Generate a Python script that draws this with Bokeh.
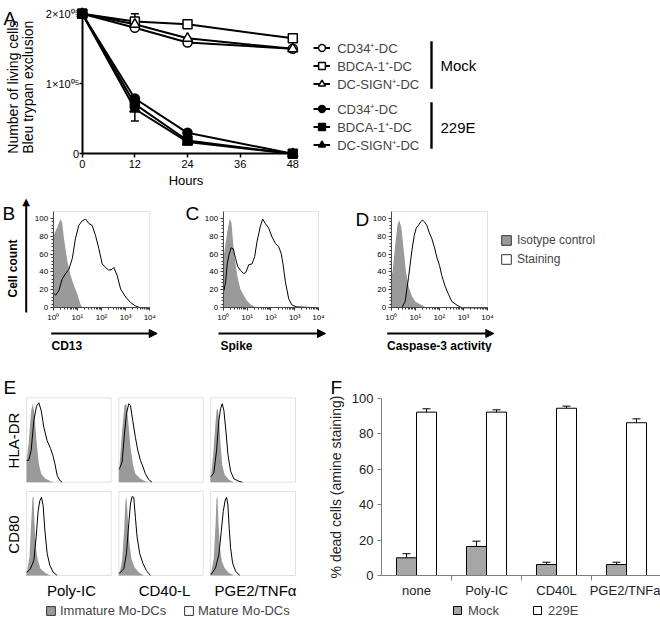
import math
import numpy as np
from bokeh.plotting import figure
from bokeh.layouts import row, column
from bokeh.models import (Legend, LegendItem, Label, Arrow, NormalHead, Whisker,
                          TeeHead, ColumnDataSource, FixedTicker, Range1d, BoxAnnotation)
from bokeh.embed import file_html
from bokeh.resources import INLINE

FONT = "Liberation Sans"

# ---------------- Panel A data ----------------
hours = [0, 12, 24, 48]
a_names = ["CD34⁺-DC", "BDCA-1⁺-DC", "DC-SIGN⁺-DC"]
mock_cd34 = [200000, 180000, 159000, 150000]
mock_bdca1 = [200000, 189000, 185000, 165000]
mock_dcsign = [200000, 185000, 165000, 150000]
hcov_cd34 = [200000, 79000, 30000, 0]
hcov_bdca1 = [200000, 71000, 19000, 0]
hcov_dcsign = [200000, 64000, 17000, 0]
err_mock_bdca1 = [0, 11000, 0, 0]
err_hcov_dcsign = [0, 17000, 0, 0]
a_xticks = [0, 12, 24, 36, 48]
a_yticks = [0, 100000, 200000]
a_ytick_labels = ["0", "1×10⁰⁵", "2×10⁰⁵"]

# ---------------- Panels B-D data (log10 fluorescence, % of max) ----------------
decades = [1, 10, 100, 1000, 10000]
decade_labels = ["10⁰", "10¹", "10²", "10³", "10⁴"]
count_ticks = [0, 20, 40, 60, 80, 100]

b_iso_log = [0.0, 0.17, 0.30, 0.37, 0.44, 0.58, 0.72, 0.86, 0.99, 1.13, 1.22]
b_iso_cnt = [80, 90, 99, 95, 79, 53, 36, 25, 16, 4, 0]
b_st_log = [0.03, 0.10, 0.23, 0.37, 0.51, 0.65, 0.79, 0.92, 1.06, 1.20, 1.34, 1.48, 1.61, 1.75,
            1.89, 2.03, 2.17, 2.30, 2.44, 2.51, 2.65, 2.79, 3.0, 3.2, 3.41, 3.61, 4.0]
b_st_cnt = [16, 14, 19, 32, 38, 43, 55, 77, 92, 97, 99, 94, 92, 81,
            66, 49, 45, 42, 43, 45, 36, 21, 12, 6, 2, 0, 0]

c_iso_log = [0.03, 0.17, 0.28, 0.35, 0.45, 0.59, 0.72, 0.86, 1.00, 1.14, 1.35, 1.42]
c_iso_cnt = [59, 85, 100, 94, 62, 36, 21, 14, 8, 4, 1, 0]
c_st_log = [0.03, 0.10, 0.17, 0.24, 0.33, 0.42, 0.52, 0.61, 0.72, 0.86, 0.96, 1.07, 1.21, 1.32,
            1.42, 1.56, 1.66, 1.77, 1.91, 2.05, 2.19, 2.33, 2.43, 2.51, 2.61, 2.75, 2.89, 3.09, 4.0]
c_st_cnt = [19, 29, 49, 59, 67, 66, 55, 46, 42, 38, 40, 48, 49, 57,
            74, 91, 99, 94, 89, 79, 72, 68, 61, 49, 29, 10, 3, 1, 0]

d_iso_log = [0.0, 0.06, 0.17, 0.26, 0.33, 0.42, 0.51, 0.61, 0.72, 0.86, 1.00, 1.20, 1.41, 1.55]
d_iso_cnt = [35, 41, 71, 92, 98, 90, 67, 41, 24, 13, 7, 4, 1, 0]
d_st_log = [0.44, 0.58, 0.72, 0.86, 0.96, 1.04, 1.13, 1.23, 1.30, 1.38, 1.48, 1.58, 1.69, 1.80,
            1.90, 2.01, 2.10, 2.24, 2.38, 2.52, 2.73, 2.93, 4.0]
d_st_cnt = [0, 7, 34, 64, 81, 89, 92, 96, 98, 96, 92, 84, 77, 67,
            56, 47, 36, 24, 15, 7, 3, 0, 0]

# ---------------- Panel E data (channel, % of max) ----------------
e_cols = ["Poly-IC", "CD40-L", "PGE2/TNFα"]
e_rows = ["HLA-DR", "CD80"]
hla_poly_iso_ch = [0, 7, 14, 19, 24, 30, 37, 44, 57, 72, 82]
hla_poly_iso = [24, 49, 85, 93, 81, 49, 22, 10, 4, 1, 0]
hla_poly_st_ch = [0, 7, 14, 22, 30, 37, 44, 52, 62, 72, 79, 85, 92, 100, 107]
hla_poly_st = [26, 26, 38, 73, 90, 94, 85, 65, 49, 40, 32, 22, 8, 2, 0]
hla_cd40_iso_ch = [0, 2, 10, 17, 23, 28, 35, 43, 50, 65, 80, 90]
hla_cd40_iso = [10, 18, 61, 91, 93, 73, 42, 20, 10, 4, 1, 0]
hla_cd40_st_ch = [0, 2, 10, 17, 23, 30, 35, 42, 50, 57, 65, 73, 80, 90, 100]
hla_cd40_st = [15, 16, 24, 57, 81, 93, 91, 73, 53, 38, 26, 18, 10, 3, 0]
hla_pge_iso_ch = [0, 2, 8, 14, 18, 22, 26, 30, 35, 42, 55, 70]
hla_pge_iso = [5, 9, 33, 65, 85, 87, 73, 45, 21, 9, 3, 0]
hla_pge_st_ch = [0, 2, 10, 18, 25, 30, 35, 40, 46, 52, 60, 70, 85, 95]
hla_pge_st = [7, 7, 11, 37, 73, 87, 93, 85, 61, 33, 13, 4, 1, 0]
cd80_poly_iso_ch = [0, 2, 9, 14, 18, 21, 24, 28, 34, 42, 57, 72]
cd80_poly_iso = [3, 6, 22, 62, 93, 94, 62, 34, 18, 8, 3, 0]
cd80_poly_st_ch = [0, 2, 12, 22, 29, 35, 40, 45, 50, 55, 62, 70, 80, 92]
cd80_poly_st = [4, 4, 8, 18, 46, 77, 89, 93, 83, 54, 26, 12, 4, 0]
cd80_cd40_iso_ch = [0, 3, 10, 16, 20, 23, 27, 32, 38, 47, 60, 75]
cd80_cd40_iso = [2, 4, 18, 54, 89, 94, 69, 38, 20, 10, 4, 0]
cd80_cd40_st_ch = [0, 3, 15, 23, 30, 35, 40, 45, 50, 55, 63, 73, 83, 95]
cd80_cd40_st = [3, 3, 8, 26, 62, 85, 94, 93, 69, 46, 26, 14, 6, 0]
cd80_pge_iso_ch = [0, 3, 10, 15, 18, 21, 24, 28, 34, 42, 55, 70]
cd80_pge_iso = [2, 5, 21, 60, 92, 93, 60, 33, 17, 9, 3, 0]
cd80_pge_st_ch = [0, 3, 15, 25, 32, 38, 44, 48, 52, 56, 60, 66, 75, 88]
cd80_pge_st = [2, 2, 9, 25, 52, 76, 90, 93, 84, 56, 33, 15, 5, 0]

# ---------------- Panel F data ----------------
treatments = ["none", "Poly-IC", "CD40L", "PGE2/TNFa"]
dead_mock = [10, 16.4, 6.2, 6.2]
dead_mock_err = [2.3, 3.0, 1.3, 1.3]
dead_229e = [92.3, 92.3, 94.5, 86.3]
dead_229e_err = [1.9, 1.3, 1.2, 2.2]
f_yticks = [0, 20, 40, 60, 80, 100]

GRAY_FILL = "#9a9a9a"
BOX = "#a0a0a0"


def span(P0, v0, P1, v1, start, size):
    """value range shown by a canvas run [start, start+size] when page P0->v0, P1->v1"""
    ppu = (P1 - P0) / (v1 - v0)
    a = v0 + (start - P0) / ppu
    b = v0 + (start + size - P0) / ppu
    return a, b


class Panel:
    def __init__(self, left, top, width, height, xmap, ymap, log_x=False, **kw):
        self.left, self.top, self.w, self.h = left, top, width, height
        xa, xb = span(*xmap, left, width)
        yt, yb = span(*ymap, top, height)
        xr = Range1d(10 ** xa, 10 ** xb) if log_x else Range1d(xa, xb)
        p = figure(width=width, height=height, x_range=xr, y_range=Range1d(yb, yt),
                   output_backend="svg", toolbar_location=None, min_border=0,
                   x_axis_type="log" if log_x else "linear", **kw)
        p.xgrid.visible = False
        p.ygrid.visible = False
        p.background_fill_color = "white"
        p.border_fill_color = "white"
        p.outline_line_color = None
        self.p = p

    def label(self, X, Y, text, size, align="left", baseline="middle", angle=0.0,
              style="normal", font=FONT):
        self.p.add_layout(Label(x=X - self.left, y=self.top + self.h - Y, x_units="screen",
                                y_units="screen", text=text, text_font=font,
                                text_font_size=f"{size}px", text_align=align,
                                text_baseline=baseline, angle=angle, text_font_style=style,
                                text_color="black"))

    def arrow(self, X0, Y0, X1, Y1, head=True, width=2):
        b = self.top + self.h
        self.p.add_layout(Arrow(x_start=X0 - self.left, y_start=b - Y0, x_end=X1 - self.left,
                                y_end=b - Y1, start_units="screen", end_units="screen",
                                line_width=width, line_color="black", start=None,
                                end=NormalHead(size=8, fill_color="black", line_color="black",
                                               line_width=1) if head else None))

    def bar(self, X0, X1, Ytop, Ybot):
        b = self.top + self.h
        self.p.add_layout(BoxAnnotation(left=X0 - self.left, right=X1 - self.left,
                                        top=b - Ytop, bottom=b - Ybot,
                                        left_units="screen", right_units="screen",
                                        top_units="screen", bottom_units="screen",
                                        fill_color="black", fill_alpha=1, line_alpha=0))

    def legend(self, items, X, Ybottom, gw, gh, lh, spacing, standoff, size):
        self.p.add_layout(Legend(items=[LegendItem(label=t, renderers=r) for t, r in items],
                                 location=(X - self.left, self.top + self.h - Ybottom),
                                 orientation="vertical", glyph_width=gw, glyph_height=gh,
                                 label_height=lh, spacing=spacing, label_standoff=standoff,
                                 padding=0, margin=0, border_line_alpha=0,
                                 background_fill_alpha=0, label_text_font=FONT,
                                 label_text_font_size=f"{size}px"))

    def swatch(self, fill):
        # legend-only proxy (no visible mark)
        return self.p.quad(left=[np.nan], right=[np.nan], top=[np.nan], bottom=[np.nan],
                           fill_color=fill, line_color="#333333", line_width=1)


def style_axis(ax, size, color="black", line="black"):
    ax.axis_line_color = line
    ax.major_tick_line_color = line
    ax.minor_tick_line_color = line
    ax.major_tick_in = 0
    ax.minor_tick_in = 0
    ax.major_label_text_font = FONT
    ax.major_label_text_font_size = f"{size}px"
    ax.major_label_text_color = color


# ================= Panel A =================
A = Panel(0, 0, 660, 190, (81.7, 0, 292.3, 48), (153.3, 0, 13.3, 200000))
pA = A.p
pA.xaxis.fixed_location = 0
pA.yaxis.fixed_location = 0
pA.xaxis.bounds = (0, 48.7)
pA.yaxis.bounds = (0, 200000)
pA.xaxis.ticker = FixedTicker(ticks=a_xticks)
pA.yaxis.ticker = FixedTicker(ticks=a_yticks)
pA.yaxis.major_label_overrides = dict(zip(a_yticks, a_ytick_labels))
for ax in (pA.xaxis, pA.yaxis):
    style_axis(ax, 11)
    ax.axis_line_width = 2
    ax.major_tick_line_width = 1.5
    ax.minor_tick_line_color = None
pA.xaxis.major_tick_out = 4
pA.xaxis.major_label_standoff = 2
pA.yaxis.major_tick_out = 3
pA.yaxis.major_label_standoff = 0

a_series = [(mock_cd34, "circle", "white", 9), (mock_bdca1, "square", "white", 9),
            (mock_dcsign, "triangle", "white", 10), (hcov_cd34, "circle", "black", 9),
            (hcov_bdca1, "square", "black", 9), (hcov_dcsign, "triangle", "black", 10)]
lines = [pA.line(hours, v, line_color="black", line_width=2) for v, *_ in a_series]
marks = [pA.scatter(hours, v, marker=m, size=s, fill_color=f, line_color="black", line_width=1.5)
         for v, m, f, s in a_series]
for vals, errs in [(mock_bdca1, err_mock_bdca1), (hcov_dcsign, err_hcov_dcsign)]:
    keep = [i for i, e in enumerate(errs) if e > 0]
    src = ColumnDataSource(dict(base=[hours[i] for i in keep],
                                lower=[vals[i] - errs[i] for i in keep],
                                upper=[vals[i] + errs[i] for i in keep]))
    pA.add_layout(Whisker(source=src, base="base", lower="lower", upper="upper",
                          line_width=1.5, line_color="black",
                          upper_head=TeeHead(size=8, line_width=1.5),
                          lower_head=TeeHead(size=8, line_width=1.5)))

A.legend([(a_names[i], [lines[i], marks[i]]) for i in range(3)], 313.2, 92.8, 17, 17, 17, 0, 7, 13)
A.legend([(a_names[i], [lines[i + 3], marks[i + 3]]) for i in range(3)], 313.2, 153.8,
         17, 17, 17, 0, 7, 13)
A.bar(429.8, 432.2, 40.7, 88.3)
A.bar(429.8, 432.2, 101.7, 148.3)
A.label(440, 65, "Mock", 15)
A.label(440, 126.7, "229E", 15)
A.label(3, 18, "A", 19, baseline="alphabetic")
A.label(12.5, 86.7, "Number of living cells", 14, align="center", angle=math.pi / 2)
A.label(27.5, 86.7, "Bleu trypan exclusion", 14, align="center", angle=math.pi / 2)
A.label(185.5, 180, "Hours", 13, align="center")


# ================= Panels B-D =================
def flow_panel(left, width, X0, X4, iso_log, iso_cnt, st_log, st_cnt):
    P = Panel(left, 190, width, 162, (X0, 0, X4, 4), (307.3, 0, 217.7, 100), log_x=True)
    p = P.p
    p.varea(x=[10 ** e for e in iso_log], y1=0, y2=iso_cnt, fill_color=GRAY_FILL)
    p.line(x=[10 ** e for e in st_log], y=st_cnt, line_color="black", line_width=1)
    p.add_layout(BoxAnnotation(left=decades[0], right=decades[-1], bottom=0, top=107.5,
                               fill_alpha=0, line_color=BOX, line_width=1))
    p.xaxis.fixed_location = 0
    p.yaxis.fixed_location = decades[0]
    p.xaxis.bounds = (decades[0], decades[-1])
    p.yaxis.bounds = (0, 107.5)
    p.xaxis.ticker = FixedTicker(ticks=decades,
                                 minor_ticks=[m * d for d in decades[:-1] for m in range(2, 10)])
    p.xaxis.major_label_overrides = dict(zip(decades, decade_labels))
    p.yaxis.ticker = FixedTicker(ticks=count_ticks,
                                 minor_ticks=[v for v in range(0, 101, 4) if v % 20])
    for ax in (p.xaxis, p.yaxis):
        style_axis(ax, 8, line="#333333")
        ax.major_tick_out = 3
        ax.minor_tick_out = 2
        ax.major_label_standoff = 2
    return P


B = flow_panel(0, 175, 52.7, 149.3, b_iso_log, b_iso_cnt, b_st_log, b_st_cnt)
B.bar(24.7, 26.7, 203, 312)
B.label(25.7, 201, "▲", 10, align="center", font="DejaVu Sans")
B.label(2, 213, "B", 19, baseline="alphabetic")
B.label(12.5, 268, "Cell count", 12, align="center", angle=math.pi / 2, style="bold")
B.arrow(50.7, 333, 156.7, 333)
B.label(51, 345, "CD13", 12, style="bold")

C = flow_panel(175, 170, 222.7, 318, c_iso_log, c_iso_cnt, c_st_log, c_st_cnt)
C.label(185, 213, "C", 19, baseline="alphabetic")
C.arrow(218, 333, 325, 333)
C.label(220, 345, "Spike", 12, style="bold")

D = flow_panel(345, 315, 390.7, 487, d_iso_log, d_iso_cnt, d_st_log, d_st_cnt)
D.label(355, 219, "D", 19, baseline="alphabetic")
D.arrow(386.7, 333, 493.3, 333)
D.label(386.5, 345, "Caspase-3 activity", 12, style="bold")
D.legend([("Isotype control", [D.swatch(GRAY_FILL)]), ("Staining", [D.swatch("white")])],
         500, 266, 12, 12, 14, 5, 5, 12)


# ================= Panel E =================
def e_panel(left, width, X0, X1, top, height, Ybot, Ytop, iso_ch, iso_cnt, st_ch, st_cnt):
    P = Panel(left, top, width, height, (X0, 0, X1, 254), (Ybot, 0, Ytop, 100),
              x_axis_location=None, y_axis_location=None)
    p = P.p
    p.varea(x=iso_ch, y1=0, y2=iso_cnt, fill_color=GRAY_FILL)
    p.line(st_ch, st_cnt, line_color="black", line_width=1)
    p.add_layout(BoxAnnotation(left=0, right=254, bottom=0, top=100, fill_alpha=0,
                               line_color=BOX, line_width=1))
    return P


cols = [(0, 114, 26, 110.7), (114, 92, 118.3, 202.7), (206, 94, 210, 295)]
r1 = (352, 134, 481.7, 397.3)
r2 = (486, 116, 575, 491)
e_data = [[(hla_poly_iso_ch, hla_poly_iso, hla_poly_st_ch, hla_poly_st),
           (hla_cd40_iso_ch, hla_cd40_iso, hla_cd40_st_ch, hla_cd40_st),
           (hla_pge_iso_ch, hla_pge_iso, hla_pge_st_ch, hla_pge_st)],
          [(cd80_poly_iso_ch, cd80_poly_iso, cd80_poly_st_ch, cd80_poly_st),
           (cd80_cd40_iso_ch, cd80_cd40_iso, cd80_cd40_st_ch, cd80_cd40_st),
           (cd80_pge_iso_ch, cd80_pge_iso, cd80_pge_st_ch, cd80_pge_st)]]
E = [[e_panel(*cols[c], *rr, *e_data[r][c]) for c in range(3)] for r, rr in enumerate([r1, r2])]
E[0][0].label(3, 387, "E", 19, baseline="alphabetic")
E[0][0].label(12.5, 440, e_rows[0], 15, align="center", angle=math.pi / 2)
E[1][0].label(12.5, 534, e_rows[1], 15, align="center", angle=math.pi / 2)
for c, xc in enumerate([71, 164, 255]):
    E[1][c].label(xc, 590, e_cols[c], 15, align="center")

EL = Panel(0, 602, 300, 16, (0, 0, 300, 1), (618, 0, 602, 1),
           x_axis_location=None, y_axis_location=None)
EL.legend([("Immature Mo-DCs", [EL.swatch(GRAY_FILL)])], 45, 617.5, 11, 11, 15, 0, 4, 13)
EL.legend([("Mature Mo-DCs", [EL.swatch("white")])], 183, 617.5, 11, 11, 15, 0, 4, 13)

# ================= Panel F =================
F = Panel(300, 352, 360, 266, (381, 0, 661, 4), (575, 0, 398, 100))
pF = F.p
pos = [i + 0.5 for i in range(len(treatments))]
half = 0.143
bm = pF.vbar(x=[x - half for x in pos], top=dead_mock, width=2 * half, bottom=0,
             fill_color="#a6a6a6", line_color="black", line_width=1)
bv = pF.vbar(x=[x + half for x in pos], top=dead_229e, width=2 * half, bottom=0,
             fill_color="white", line_color="black", line_width=1)
for off, vals, errs in [(-half, dead_mock, dead_mock_err), (half, dead_229e, dead_229e_err)]:
    src = ColumnDataSource(dict(base=[x + off for x in pos], lower=vals,
                                upper=[v + e for v, e in zip(vals, errs)]))
    pF.add_layout(Whisker(source=src, base="base", lower="lower", upper="upper",
                          line_color="black", line_width=1, lower_head=None,
                          upper_head=TeeHead(size=8, line_width=1, line_color="black")))
pF.xaxis.fixed_location = 0
pF.yaxis.fixed_location = 0
pF.xaxis.bounds = (0, len(treatments))
pF.yaxis.bounds = (0, 100)
pF.xaxis.ticker = FixedTicker(ticks=pos, minor_ticks=list(range(1, len(treatments))))
pF.xaxis.major_label_overrides = dict(zip(pos, treatments))
pF.yaxis.ticker = FixedTicker(ticks=f_yticks)
for ax in (pF.xaxis, pF.yaxis):
    style_axis(ax, 13, color="#222222", line="#7f7f7f")
pF.xaxis.major_tick_out = 0
pF.xaxis.minor_tick_out = 5
pF.xaxis.major_label_standoff = 2
pF.yaxis.minor_tick_line_color = None
pF.yaxis.major_tick_out = 4
pF.yaxis.major_label_standoff = 4
pF.yaxis.axis_label = "% dead cells (amine staining)"
pF.yaxis.axis_label_text_font = FONT
pF.yaxis.axis_label_text_font_size = "14px"
pF.yaxis.axis_label_text_font_style = "normal"
pF.yaxis.axis_label_text_color = "#222222"
pF.yaxis.axis_label_standoff = 5
F.label(330, 387, "F", 19, baseline="alphabetic")
F.legend([("Mock", [bm])], 452, 617.5, 10, 10, 15, 0, 6, 13)
F.legend([("229E", [bv])], 532, 617.5, 10, 10, 15, 0, 6, 13)

layout = column(
    A.p,
    row(B.p, C.p, D.p),
    row(column(row(*[P.p for P in E[0]]), row(*[P.p for P in E[1]]), EL.p), F.p),
)

open("out.html", "w").write(file_html(layout, INLINE))
